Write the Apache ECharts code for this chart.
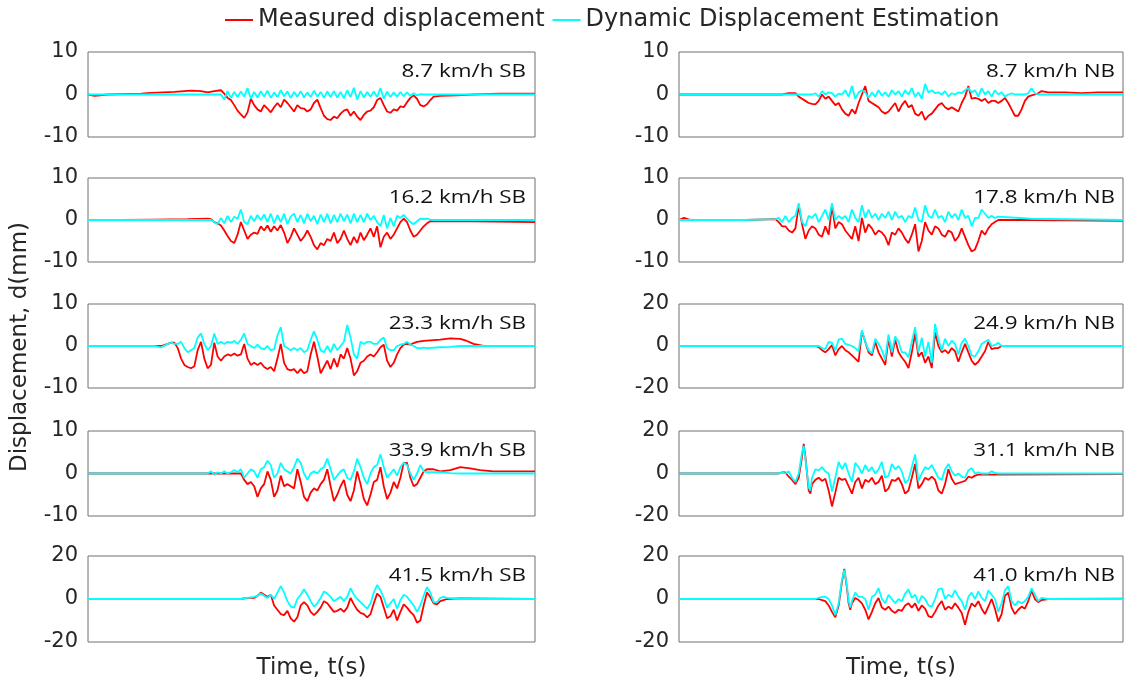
<!DOCTYPE html>
<html><head><meta charset="utf-8">
<script src="https://cdn.jsdelivr.net/npm/echarts/dist/echarts.min.js"></script>
<style>html,body{margin:0;padding:0;background:#fff}#c{width:1126px;height:690px}</style>
</head><body><div id="c"></div>
<script>
// ---- data (time in arbitrary units, displacement in mm) ----
const T_SB1=[0,2,6,16,19,26,31,34,36,38,40,
41,42,43,44,45,46,47,48,49,50,51,52,53,54,55,56,57,58,59,60,61,62,63,64,65,66,67,68,69,70,
71,72,73,74,75,76,77,78,79,80,81,82,83,84,85,86,87,88,89,90,91,92,93,94,95,96,97,98,99,100,
101,102,103,104,106,111,116,124,134.5];
const M_SB1=[0,-0.3,0,0.2,0.4,0.6,0.9,0.8,0.5,0.8,1.0,
0.2,-0.8,-1.3,-2.5,-3.8,-4.7,-5.5,-4.2,-1.0,-2.5,
-3.5,-4.0,-2.5,-3.3,-4.2,-3.0,-2.0,-3.0,-1.2,-2.0,
-3.0,-4.0,-2.5,-3.2,-3.3,-4.0,-3.5,-2.0,-1.2,-3.2,
-5.0,-5.8,-6.0,-5.2,-5.6,-4.5,-3.8,-3.5,-5.0,-4.0,
-5.2,-6.0,-4.8,-4.0,-3.8,-3.0,-1.3,-0.8,-2.5,-4.0,
-4.3,-3.5,-3.8,-2.8,-3.0,-1.8,-0.8,-0.2,-1.0,-2.5,
-2.8,-2.3,-1.3,-0.5,-0.3,-0.2,0,0.2,0.2];
const E_SB1=[0,0,0,0,0,0,0,0,0,0,0,
-1.2,0.8,-0.8,0.6,-0.6,0.7,-0.5,1.5,-1.0,0.6,
-0.7,0.8,-0.5,0.9,-0.8,0.5,-0.6,1.0,-0.4,0.7,
-0.8,0.6,-0.5,0.8,-0.7,0.5,-0.6,0.9,-0.5,0.6,
-0.8,0.7,-0.6,0.8,-0.7,0.6,-0.9,1.0,-0.6,1.6,
-1.2,0.8,-0.7,0.6,-0.5,0.7,-0.6,1.5,-1.0,0.7,
-0.6,0.5,-0.5,0.6,-0.4,0.5,-0.3,0.3,-0.2,0.1,
0,0,0,0,0,0,0,0,0];

const T_SB2=[0,10,20,30,36,
37,38,39,40,41,42,43,44,45,46,47,48,49,50,51,52,53,54,55,56,57,58,59,60,61,62,63,64,65,66,67,68,69,70,
71,72,73,74,75,76,77,78,79,80,81,82,83,84,85,86,87,88,89,90,91,92,93,94,95,96,97,98,99,100,
101,102,103,104,116,134.5];
const M_SB2=[0,0,0.1,0.2,0.3,
0.2,-0.5,-0.8,-1.3,
-2.5,-3.8,-5.0,-5.5,-3.5,-0.5,-2.5,-4.5,-3.5,-3.0,
-3.3,-1.5,-2.5,-1.3,-2.8,-1.5,-2.5,-1.2,-3.0,-5.5,
-4.0,-2.0,-3.5,-5.0,-4.0,-2.5,-4.0,-6.0,-7.0,-5.5,
-6.0,-4.5,-5.0,-3.0,-5.5,-4.5,-2.5,-4.5,-6.0,-4.0,
-5.5,-3.0,-4.8,-3.5,-2.0,-4.0,-1.5,-6.5,-4.0,-3.0,
-4.5,-3.5,-2.0,-0.5,0.3,-0.5,-2.5,-4.0,-3.5,-2.5,
-1.5,-0.8,-0.3,-0.3,-0.3,-0.5];
const E_SB2=[0,0,0,0,0,
0,-0.5,-1.0,0.5,
-0.8,1.0,-0.5,0.8,0.3,2.5,-0.5,-1.0,1.0,-0.3,
1.2,0,1.3,-0.5,1.5,-0.8,1.2,-0.5,1.5,-1.0,
0.8,1.5,-0.5,1.2,-0.8,1.5,-0.3,1.0,-1.0,1.3,
-0.5,1.5,-0.8,1.2,-0.5,1.5,-0.3,1.3,-0.8,1.5,
-0.5,1.2,-0.5,1.5,0,1.0,-0.5,-1.5,1.2,-2.0,
0.5,-1.5,1.0,0.5,1.2,0.3,-0.5,-1.0,-0.3,0.3,
0.2,0.3,0.1,0,0,0];

const T_SB3=[0,10,20,22,24,25,26,
27,28,29,30,31,32,33,34,35,36,37,38,39,40,41,42,43,44,45,46,47,48,49,50,51,52,53,54,55,56,57,58,59,60,
61,62,63,64,65,66,67,68,69,70,71,72,73,74,75,76,77,78,79,80,81,82,83,84,85,86,87,88,89,90,
91,92,93,94,95,96,97,98,99,100,101,102,106,109,112,114,116,119,134.5];
const M_SB3=[0,0,0,0,0.5,0.8,0.8,
-0.5,-3.0,-4.5,-5.0,
-5.3,-4.8,-1.0,1.0,-3.0,-5.3,-4.5,0.8,-2.5,-3.5,
-2.5,-2.0,-2.3,-1.8,-2.3,-2.0,0.5,-3.0,-4.5,-4.0,
-4.5,-4.0,-5.0,-5.5,-5.0,-6.0,-3.0,0.5,-4.0,-5.5,
-5.8,-5.5,-6.5,-5.5,-6.5,-6.0,-2.0,1.0,-2.5,-6.5,
-5.0,-3.5,-5.5,-3.0,-5.0,-2.0,-3.0,-0.5,-3.0,-7.0,
-6.0,-4.0,-3.5,-2.5,-2.0,-2.5,-1.5,-0.3,0.3,-3.5,
-5.0,-4.0,-2.0,-0.5,0.3,0.5,0.3,0.7,1.0,1.1,
1.2,1.3,1.5,1.8,1.7,1.2,0.5,0,0];
const E_SB3=[0,0,0,-0.3,0.5,0.8,0.5,
0.5,1.0,-0.5,-1.5,
-1.0,-0.5,2.0,3.0,0.5,-1.0,0,3.0,0.5,1.0,
0.5,1.0,0.8,1.2,0.5,1.5,3.0,0.5,0,-0.5,
0.3,-0.5,-0.8,0,-1.0,-0.8,2.5,4.5,0,-0.5,
-1.0,-0.5,-1.0,-0.5,-1.5,-1.0,1.5,3.5,1.5,-1.0,
-1.5,0,-1.5,0.5,-1.0,0,1.0,5.0,2.0,-2.0,
-3.0,1.0,0.5,1.0,1.0,0.5,0.5,1.5,2.0,-0.5,
-1.0,-1.0,0,0.3,0.5,1.0,0.3,0,-0.5,-0.5,
-0.4,-0.5,-0.3,-0.2,0,0,0,0,0];

const T_SB4=[0,20,36,
37,38,39,40,41,42,43,44,45,46,47,48,49,50,51,52,53,54,55,56,57,58,59,60,61,62,63,64,65,66,67,68,69,70,
71,72,73,74,75,76,77,78,79,80,81,82,83,84,85,86,87,88,89,90,91,92,93,94,95,96,97,98,99,100,
101,102,104,106,109,112,115,118,122,128,134.5];
const M_SB4=[0,0,0,
0,0,0,0,
0,0,0,0,0,0,-1.5,-2.5,-2.0,-3.0,
-5.5,-3.5,-2.5,0.5,-1.5,-5.5,-4.0,-0.5,-3.0,-2.5,
-3.0,-3.5,1.0,-2.0,-5.5,-6.5,-4.5,-3.5,-4.0,-2.5,
-1.5,1.0,-3.0,-6.5,-5.0,-3.0,-1.5,-5.0,-6.5,-4.0,
0.5,-2.5,-6.0,-7.5,-5.0,-2.0,-1.5,1.5,-3.0,-6.0,
-4.5,-2.0,-3.5,-1.0,2.5,2.5,-1.0,-3.0,-2.5,-1.0,
0.5,1.0,1.0,0.5,0.8,1.5,1.2,0.8,0.5,0.5,0.5];
const E_SB4=[0,0,0,
0.5,-0.3,0.3,0,
0.5,0,0.3,0.8,0.3,1.0,-1.0,0,1.0,0.5,
-1.0,1.0,1.5,3.0,2.0,-1.0,0,2.5,1.0,0.5,
0,1.5,3.5,2.5,0,-1.5,0,0.5,0,1.0,
1.5,3.5,1.0,-1.5,-0.5,0.5,1.0,-1.0,-1.5,0.5,
3.5,1.5,-1.0,-2.5,0,1.5,2.0,4.5,1.5,-1.0,
0,1.0,-0.5,1.5,2.5,2.0,0,-1.5,0,2.0,
0.5,0.3,0.3,0.3,0.1,0,0,0,0,0,0];

const T_SB5=[0,20,40,46,48,50,
51,52,53,54,55,56,57,58,59,60,61,62,63,64,65,66,67,68,69,70,
71,72,73,74,75,76,77,78,79,80,81,82,83,84,85,86,87,88,89,90,91,92,93,94,95,96,97,98,99,100,
101,102,103,104,105,106,107,108,112,134.5];
const M_SB5=[0,0,0,0,0.5,0.5,
1.5,3.0,2.0,1.0,2.0,-3.0,-5.0,-7.0,-7.5,-5.5,
-9.0,-10.5,-8.5,-3.0,-1.5,-3.0,-6.0,-7.5,-6.0,-4.0,
-1.0,-2.0,-4.0,-6.0,-5.5,-4.5,-6.0,-4.0,0.5,-2.5,
-5.0,-6.5,-7.0,-8.5,-7.0,-2.0,2.5,1.0,-4.0,-9.0,
-8.0,-5.0,-10.0,-6.0,-2.5,-4.0,-6.0,-7.5,-11.0,-10.0,
-3.0,3.0,1.0,-2.0,-2.5,-1.0,-0.5,0,0.3,0];
const E_SB5=[0,0,0,0,0.5,1.0,
1.5,2.5,1.5,0.5,2.0,0,3.0,6.0,3.0,-1.0,
-3.5,-4.0,0,2.0,4.5,2.0,-1.0,-3.5,-2.0,0.5,
3.5,2.5,1.0,-1.0,0,1.0,-1.0,1.0,5.0,2.0,
0,-1.5,-3.0,-4.5,-2.0,3.0,6.5,4.0,0.5,-4.0,
-2.0,0,-4.5,-0.5,2.0,1.0,-1.0,-3.0,-6.0,-3.0,
1.5,5.5,3.0,-1.5,-1.5,0.5,1.0,0.5,0,0];

const T_NB1=[0,20,31,33,35,
36,37,38,39,40,41,42,43,44,45,46,47,48,49,50,51,52,53,54,55,56,57,58,59,60,61,62,63,64,65,66,67,68,69,70,
71,72,73,74,75,76,77,78,79,80,81,82,83,84,85,86,87,88,89,90,91,92,93,94,95,96,97,98,99,100,
101,102,103,104,105,106,107,108,109,111,116,121,126,133.5];
const M_NB1=[0,0,0,0.3,0.3,
-0.5,-1.0,-1.5,-2.0,-2.2,
-2.3,-1.5,0,-1.0,-0.5,-1.5,-2.5,-2.0,-3.5,-4.5,
-5.0,-3.5,-4.5,-2.0,0,2.0,-1.5,-2.0,-2.5,-3.0,
-4.0,-4.5,-4.0,-3.0,-2.0,-4.0,-2.5,-1.5,-3.0,-2.5,
-4.5,-5.0,-4.0,-6.0,-5.0,-4.5,-3.5,-2.5,-2.0,-3.0,
-3.5,-3.0,-3.5,-4.0,-2.0,-0.5,2.0,-1.0,-0.8,-1.0,
-1.5,-1.0,-2.0,-1.5,-1.5,-2.0,-1.5,-0.8,-2.0,-3.5,
-5.0,-5.0,-3.5,-1.5,-0.5,-0.2,0,0.3,
0.8,0.5,0.5,0.3,0.5,0.5];
const E_NB1=[0,0,0,0,0,
0,0,0,0,0,
0.3,-0.5,0.8,0,0.5,0.3,-0.5,0.2,0,1.0,
-0.5,2.0,-1.0,0.5,1.0,0.5,-0.8,0.5,-0.5,1.0,
-0.3,0.5,-0.5,1.0,0,0.8,-0.5,1.0,0,1.5,
-0.5,0.5,-1.0,2.5,0.5,1.0,0.3,0.5,0,0.8,
-0.5,0.3,0,0.5,0.3,1.0,1.5,0.5,1.0,-0.5,
1.5,0,0.8,-0.5,1.0,0,0.5,-0.5,0,0.3,
0,0,0,0,0.3,1.5,0.3,0,
0,0,0,0,0,0];

const T_NB2=[0,1.5,3.5,20,29,
30,31,32,33,34,35,36,37,38,39,40,41,42,43,44,45,46,47,48,49,50,51,52,53,54,55,56,57,58,59,60,
61,62,63,64,65,66,67,68,69,70,71,72,73,74,75,76,77,78,79,80,81,82,83,84,85,86,87,88,89,90,
91,92,93,94,95,96,106,133.5];
const M_NB2=[0,0.5,0,0,0.2,
-0.5,
-1.5,-1.5,-2.5,-3.0,-2.0,3.5,-1.0,-4.5,-2.5,-1.5,
-2.0,-3.5,-4.0,-1.5,-3.5,3.5,-2.0,-0.5,-1.0,-2.5,
-3.5,-4.5,-1.5,-5.0,0.5,-3.0,-1.0,-2.0,-3.5,-2.5,
-3.0,-4.0,-6.0,-3.0,-3.5,-2.0,-3.0,-4.5,-5.5,-3.5,
-1.0,-7.5,-5.0,-0.5,-2.5,-3.5,-1.5,-2.0,-3.5,-4.0,
-2.5,-3.0,-5.0,-4.0,-2.0,-4.0,-6.0,-7.5,-7.0,-5.0,
-2.5,-3.5,-2.0,-1.0,-0.5,0,0,-0.2];
const E_NB2=[0,0,0,0,0.2,
0.5,
-0.5,1.0,-0.5,0.5,1.0,4.0,-0.5,-1.5,1.0,0.5,
1.5,-0.5,1.0,2.5,0,4.0,0,1.0,0.3,1.0,
-0.5,2.5,0.5,-0.5,3.5,0.5,2.5,0.5,1.5,0,
1.5,0.5,2.0,0,2.0,0.5,1.0,-0.5,1.0,0.5,
3.0,0,-0.5,3.5,1.0,0.5,2.5,0.5,1.0,-0.5,
2.0,0.5,1.5,0,2.5,0.5,1.0,-1.5,0.5,0.5,
2.5,1.5,0.5,1.0,0.5,0.8,0.3,0];

const T_NB3=[0,20,41,
42,43,44,45,46,47,48,49,50,51,52,53,54,55,56,57,58,59,60,61,62,63,64,65,66,67,68,69,70,
71,72,73,74,75,76,77,78,79,80,81,82,83,84,85,86,87,88,89,90,91,92,93,94,95,96,97,133.5];
const M_NB3=[0,0,0,
-0.5,-2.0,-3.0,-1.5,0.5,-4.5,-1.5,0,-2.0,
-3.0,-4.5,-6.0,-7.5,7.0,2.0,-3.0,-4.5,2.0,-3.0,
-6.0,-9.0,3.5,-5.0,3.0,-3.0,-5.5,-7.5,-10.5,-3.0,
6.0,-5.0,-3.0,-8.0,-5.0,-10.5,6.5,0,-3.0,-2.0,
-3.5,-1.0,-2.5,-7.5,-3.0,1.0,-3.0,-7.0,-9.0,-7.5,
-5.0,-2.5,2.0,-1.5,-1.0,-1.0,0,0];
const E_NB3=[0,0,0,
0,-1.0,-1.5,2.0,1.5,-2.0,3.0,3.5,1.0,
0.5,0,-1.0,-2.5,7.5,2.0,-2.0,-3.5,3.5,1.0,
-2.0,-6.5,5.5,-3.0,4.5,2.0,-3.0,-3.0,-5.5,2.0,
9.0,-3.0,4.0,-5.0,2.0,-8.0,10.5,3.0,-2.0,3.5,
0,2.5,1.0,-4.0,1.5,3.5,0,-4.5,-5.0,-2.5,
1.0,2.0,3.0,0,0.5,1.5,0,0];

const T_NB4=[0,20,30,
31,32,33,34,35,36,37,37.5,38,39,39.5,40,
41,42,43,44,45,46,47,48,49,50,51,52,53,54,55,56,57,58,59,60,61,62,63,64,65,66,67,68,69,70,
71,72,73,74,75,76,77,78,79,80,81,82,83,84,85,86,87,88,89,90,91,92,93,94,95,96,133.5];
const M_NB4=[0,0,0,
0.5,0.5,-1.5,-3.0,-5.0,-2.0,8.0,14.0,8.0,-8.0,-9.5,-5.0,
-3.0,-2.0,-3.5,-2.5,-8.0,-15.5,-9.0,-2.0,-3.0,-2.5,
-6.0,-9.5,-4.0,-2.0,-7.0,-3.0,-4.0,-2.0,-5.0,-4.0,
-1.0,-8.5,-7.0,-3.0,-3.5,-2.0,-5.0,-9.5,-8.0,-2.0,
4.5,-7.0,-5.0,-2.0,-3.0,-1.5,-3.0,-8.0,-9.5,-5.0,
2.0,-2.5,-5.0,-4.5,-4.0,-3.5,-1.5,-2.0,-1.0,-0.5,
-0.5,-0.5,-0.5,-0.5,-0.5,-0.5,-0.3];
const E_NB4=[0,0,0,
0.5,0,1.0,-2.0,-4.0,0,10.0,13.0,7.0,-6.5,-8.0,-2.0,
2.0,1.5,3.0,1.0,0,-8.5,-2.0,5.5,2.0,5.0,
0,-4.0,5.0,3.0,0,4.0,1.0,3.0,0,2.0,
5.5,-2.0,-1.0,4.5,2.0,3.5,1.0,-4.5,-3.0,3.0,
9.0,-3.5,0,3.0,2.0,4.0,1.0,-2.0,-3.0,2.0,
4.5,1.0,-1.0,0,-1.5,-2.0,1.5,2.5,0,0.5,
0,0,0,1.0,0.3,0,0];

const T_NB5=[0,20,41,
42,43,44,45,46,47,48,49,49.7,50.5,51,51.5,
52,53,54,55,56,57,58,59,60,61,62,63,64,65,66,67,68,69,70,71,
72,73,74,75,76,77,78,79,80,81,82,83,84,85,86,87,88,89,90,91,
92,93,94,95,96,97,98,99,100,101,102,103,104,105,106,107,108,109,111,133.5];
const M_NB5=[0,0,0,
0,-0.5,-1.0,-3.0,-6.0,-8.5,-3.0,8.0,14.0,5.0,-2.0,-5.0,
-2.0,0.5,-0.5,-2.0,-5.0,-9.5,-6.0,-2.0,0.5,-4.0,
-5.0,-3.5,-5.5,-6.5,-5.0,-5.5,-3.0,-2.0,-4.0,-2.0,
-5.5,-3.0,-4.5,-8.0,-8.5,-6.0,-3.0,-1.0,-5.0,-3.5,
-4.5,-2.0,-4.0,-6.5,-12.0,-6.0,-2.0,-3.5,-1.0,-4.5,
-7.0,-3.5,0,-4.5,-10.5,-7.0,1.5,3.0,-4.0,-7.0,
-5.0,-3.5,-4.5,-1.0,4.0,0,-1.5,-0.5,0,0.2];
const E_NB5=[0,0,0,
0.5,1.0,1.0,0,-3.0,-7.5,-2.0,9.0,13.5,6.0,-1.0,-4.0,
-1.0,3.0,1.0,1.0,0,-5.0,1.0,2.0,5.0,0,
-2.0,2.0,0,-2.0,0,-1.0,2.5,4.5,0.5,2.0,
-2.0,1.5,0,-3.0,-3.5,0,4.5,5.0,0,2.0,
1.0,4.0,1.0,-1.0,-5.0,1.0,3.0,0,3.5,0.5,
-1.0,4.0,2.0,0,-6.0,-2.0,4.0,6.0,-1.0,-3.0,
-1.0,-2.0,-1.0,1.0,5.0,2.0,-1.0,0.5,0,0];

const PANEL_LABELS=['8.7 km/h SB','16.2 km/h SB','23.3 km/h SB','33.9 km/h SB','41.5 km/h SB',
  '8.7 km/h NB','17.8 km/h NB','24.9 km/h NB','31.1 km/h NB','41.0 km/h NB'];
const Y_LIMITS=[10,10,10,10,20, 10,10,20,20,20];
const SERIES_NAMES=['Measured displacement','Dynamic Displacement Estimation'];

// ---- build chart ----
const DATA=[[T_SB1,M_SB1,E_SB1],[T_SB2,M_SB2,E_SB2],[T_SB3,M_SB3,E_SB3],[T_SB4,M_SB4,E_SB4],[T_SB5,M_SB5,E_SB5],
            [T_NB1,M_NB1,E_NB1],[T_NB2,M_NB2,E_NB2],[T_NB3,M_NB3,E_NB3],[T_NB4,M_NB4,E_NB4],[T_NB5,M_NB5,E_NB5]];
const tops=[52,178,304,431,556], heights=[85,84,84,85,86];
const cols=[{left:88,width:447,xmax:134.5,labelX:526},{left:679,width:444,xmax:133.5,labelX:1115}];
const FONT='"DejaVu Sans", sans-serif';
const grid=[],xAxis=[],yAxis=[],series=[],graphic=[];
DATA.forEach((d,i)=>{
  const c=cols[Math.floor(i/5)], r=i%5, lim=Y_LIMITS[i];
  grid.push({left:c.left,top:tops[r],width:c.width,height:heights[r],show:true,borderColor:'#707070',borderWidth:1,backgroundColor:'#fff'});
  xAxis.push({type:'value',gridIndex:i,min:0,max:c.xmax,axisLine:{show:false},axisTick:{show:false},axisLabel:{show:false},splitLine:{show:false}});
  yAxis.push({type:'value',gridIndex:i,min:-lim,max:lim,interval:lim,axisLine:{show:false},axisTick:{show:false},splitLine:{show:false},
    axisLabel:{fontFamily:FONT,fontSize:21,color:'#262626',margin:10}});
  const [t,m,e]=d;
  series.push({type:'line',name:SERIES_NAMES[0],xAxisIndex:i,yAxisIndex:i,data:t.map((x,j)=>[x,m[j]]),showSymbol:false,symbol:'none',
    lineStyle:{color:'#ff0000',width:1.8},itemStyle:{color:'#ff0000'},silent:true});
  series.push({type:'line',name:SERIES_NAMES[1],xAxisIndex:i,yAxisIndex:i,data:t.map((x,j)=>[x,e[j]]),showSymbol:false,symbol:'none',
    lineStyle:{color:'#00ffff',width:1.8},itemStyle:{color:'#00ffff'},silent:true});
  graphic.push({type:'text',x:c.labelX,y:tops[r]+20,scaleX:1.18,z:100,
    style:{text:PANEL_LABELS[i],font:'19px "Open Sans", sans-serif',fill:'#111',align:'right',verticalAlign:'middle',textAlign:'right',textVerticalAlign:'middle'}});
});
graphic.push({type:'text',x:20,y:347,rotation:Math.PI/2,
  style:{text:'Displacement, d(mm)',font:'23px "DejaVu Sans", sans-serif',fill:'#262626',align:'center',verticalAlign:'middle',textAlign:'center',textVerticalAlign:'middle'}});
[311.5,901].forEach(x=>graphic.push({type:'text',x:x,y:668,
  style:{text:'Time, t(s)',font:'23px "DejaVu Sans", sans-serif',fill:'#262626',align:'center',verticalAlign:'middle',textAlign:'center',textVerticalAlign:'middle'}}));

const chart=echarts.init(document.getElementById('c'),null,{renderer:'canvas'});
chart.setOption({
  animation:false,
  backgroundColor:'#fff',
  legend:{data:SERIES_NAMES,left:220,top:3,icon:'rect',itemWidth:28,itemHeight:2,itemGap:8,
    textStyle:{fontFamily:FONT,fontSize:24,color:'#262626'}},
  grid:grid,xAxis:xAxis,yAxis:yAxis,series:series,graphic:graphic
});
</script></body></html>
